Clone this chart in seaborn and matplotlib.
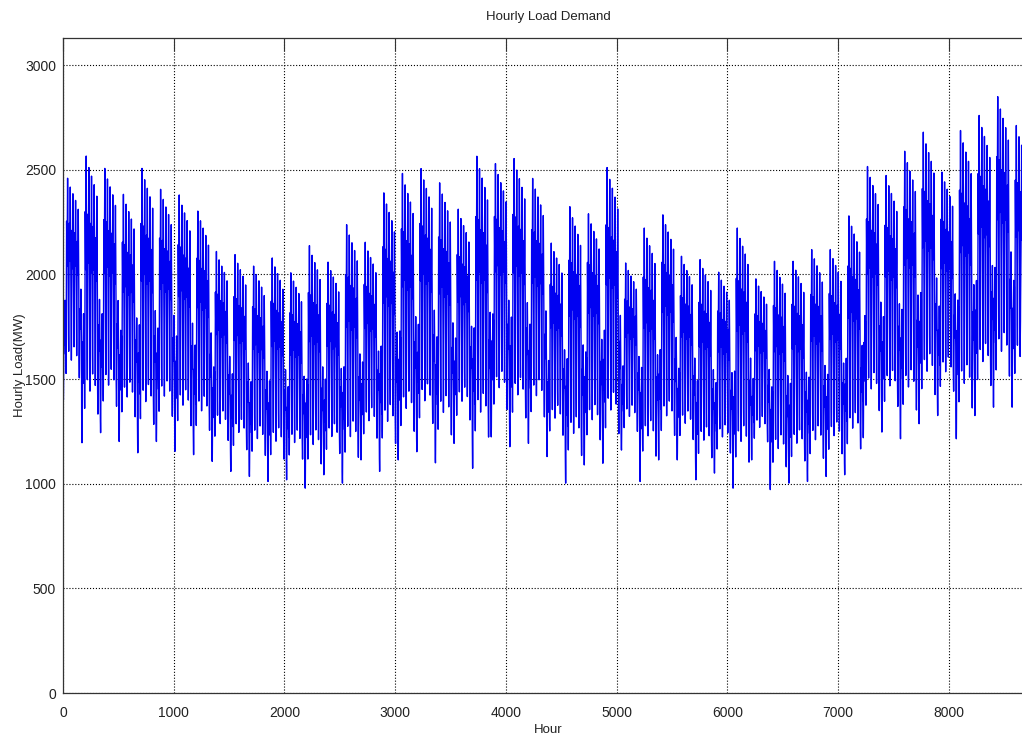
import numpy as np
import pandas as pd
import matplotlib
matplotlib.use("Agg")
import matplotlib.pyplot as plt
import seaborn as sns

# weekly highest (weekday) peak and lowest (weekend) trough, MW
week_peak = [2460, 2566, 2507, 2383, 2507, 2407, 2380, 2303, 2110, 2095,
             2040, 2079, 2008, 2138, 2059, 2238, 2154, 2390, 2483, 2506,
             2438, 2312, 2565, 2530, 2554, 2459, 2150, 2324, 2290, 2511,
             2055, 2222, 2285, 2087, 2071, 2011, 2222, 1979, 2063, 2063,
             2119, 2119, 2280, 2516, 2473, 2589, 2680, 2489, 2688, 2760,
             2850, 2712, 2700]
week_low = [1400, 1196, 1244, 1202, 1148, 1202, 1155, 1139, 1107, 1059,
            1035, 1011, 1019, 979, 1043, 1003, 1114, 1059, 1114, 1153,
            1100, 1193, 1074, 1224, 1177, 1193, 1130, 1003, 1090, 1098,
            1161, 1011, 1114, 1114, 1019, 1051, 979, 1114, 972, 1003,
            1011, 1035, 1043, 1220, 1247, 1215, 1287, 1326, 1215, 1326,
            1366, 1366, 1450]

# share of the weekly swing reached by each day (Sun..Sat)
day_peak_share = [0.45, 1.00, 0.96, 0.93, 0.90, 0.86, 0.50]
day_low_share = [0.00, 0.12, 0.22, 0.18, 0.24, 0.20, 0.10]

# typical within-day shape (0 = night minimum, 1 = evening peak)
hour_shape = [0.35, 0.22, 0.10, 0.03, 0.00, 0.08, 0.30, 0.55, 0.72, 0.78,
              0.74, 0.66, 0.58, 0.55, 0.60, 0.70, 0.82, 0.94, 1.00, 0.92,
              0.80, 0.70, 0.58, 0.46]

n_days = 365
rows = []
for d in range(n_days):
    w, dow = d // 7, d % 7
    swing = week_peak[w] - week_low[w]
    hi = week_low[w] + swing * day_peak_share[dow]
    lo = week_low[w] + swing * day_low_share[dow]
    for h, s in enumerate(hour_shape):
        rows.append((d * 24 + h, lo + (hi - lo) * s))
df = pd.DataFrame(rows, columns=["hour", "load"])

sns.set_style("white")
plt.rcParams["font.family"] = ["Liberation Sans Narrow", "Liberation Sans", "DejaVu Sans"]
txt = "#222222"

fig = plt.figure(figsize=(10.22, 7.4), dpi=100)
ax = fig.add_axes([0.0616, 0.0635, 0.9491, 0.8851])

sns.lineplot(data=df, x="hour", y="load", color=(0, 0, 0.95), linewidth=1.0,
             estimator=None, ax=ax)

ax.set_xlim(0, 8760)
ax.set_ylim(0, 3130)
ax.set_xticks(range(0, 8001, 1000))
ax.set_yticks(range(0, 3001, 500))
ax.grid(True, linestyle=":", color="k", linewidth=0.8)
for sp in ax.spines.values():
    sp.set_color("#333333")
    sp.set_linewidth(0.9)
ax.tick_params(axis="x", direction="in", length=9, width=0.8, top=True,
               labelsize=10, colors="#333333", labelcolor=txt, pad=9)
ax.tick_params(axis="y", direction="in", length=6.5, width=0.8, right=True,
               labelsize=10, colors="#333333", labelcolor=txt, pad=5)

ax.set_title("Hourly Load Demand", fontsize=9.5, color=txt, pad=13)
ax.set_xlabel("Hour", fontsize=9.5, color=txt, labelpad=3)
ax.set_ylabel("Hourly Load(MW)", fontsize=9.5, color=txt, labelpad=-0.5)

fig.savefig("out.png", dpi=100)
